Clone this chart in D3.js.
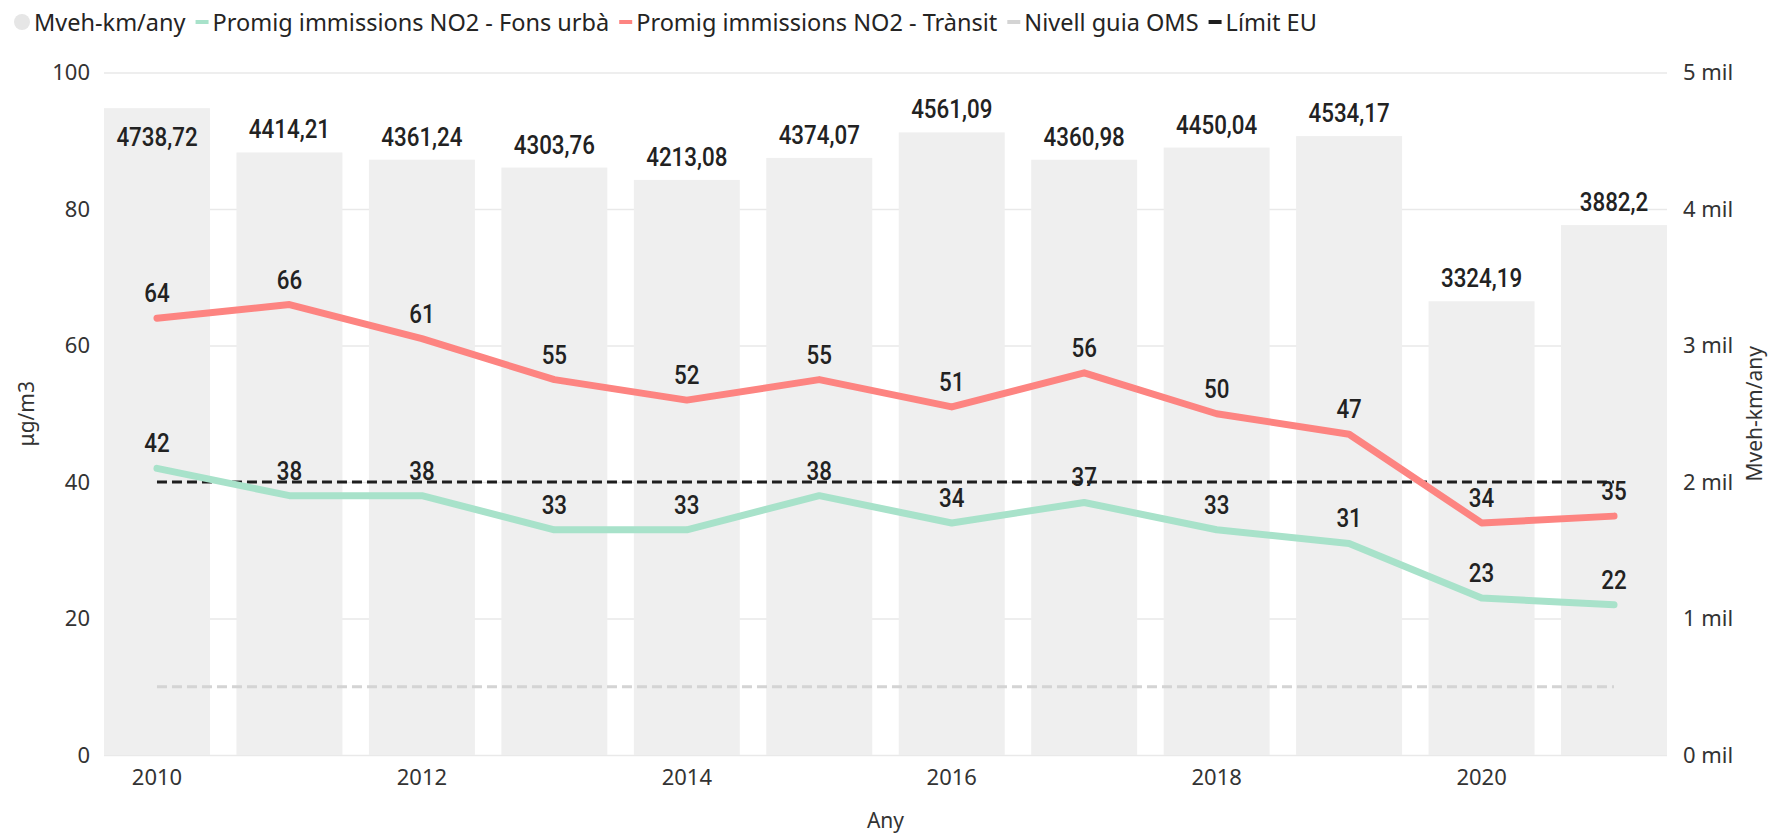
<!DOCTYPE html>
<html>
<head>
<meta charset="utf-8">
<script src="https://cdn.jsdelivr.net/npm/d3@7"></script>
<style>
  html, body { margin: 0; padding: 0; background: #fff; }
  svg { display: block; }
</style>
</head>
<body>
<svg id="chart" width="1768" height="838"></svg>
<script>
// ---- data ----
const years = [2010, 2011, 2012, 2013, 2014, 2015, 2016, 2017, 2018, 2019, 2020, 2021];
const traffic = [4738.72, 4414.21, 4361.24, 4303.76, 4213.08, 4374.07, 4561.09, 4360.98, 4450.04, 4534.17, 3324.19, 3882.2];
const no2Urban = [42, 38, 38, 33, 33, 38, 34, 37, 33, 31, 23, 22];
const no2Transit = [64, 66, 61, 55, 52, 55, 51, 56, 50, 47, 34, 35];
const whoGuide = [10, 10, 10, 10, 10, 10, 10, 10, 10, 10, 10, 10];
const euLimit = [40, 40, 40, 40, 40, 40, 40, 40, 40, 40, 40, 40];
const leftTicks = [0, 20, 40, 60, 80, 100];
const rightTicks = [0, 1000, 2000, 3000, 4000, 5000];
const xTickYears = [2010, 2012, 2014, 2016, 2018, 2020];
const seriesNames = ["Mveh-km/any", "Promig immissions NO2 - Fons urbà", "Promig immissions NO2 - Trànsit", "Nivell guia OMS", "Límit EU"];

// ---- layout ----
const svg = d3.select("#chart");
const plot = { left: 104, right: 1667, top: 72.5, bottom: 755 };
const colors = { bar: "#EFEFEF", urban: "#A8E2CA", transit: "#FD8481", who: "#D4D4D4", eu: "#1E1E1E", grid: "#E9E9E9" };
const tickFont = "'Noto Sans', 'Open Sans', sans-serif";
const labelFont = "Roboto, sans-serif";

const x = d3.scaleBand().domain(years).range([plot.left, plot.right]).paddingInner(0.2).paddingOuter(0);
const yL = d3.scaleLinear().domain([0, 100]).range([plot.bottom, plot.top]);
const yR = d3.scaleLinear().domain([0, 5000]).range([plot.bottom, plot.top]);
const cx = d => x(d) + x.bandwidth() / 2;

// gridlines
svg.append("g")
  .attr("transform", `translate(${plot.left},0)`)
  .call(d3.axisLeft(yL).tickValues(leftTicks).tickSize(-(plot.right - plot.left)).tickFormat(""))
  .call(g => g.select(".domain").remove())
  .call(g => g.selectAll("line").attr("stroke", colors.grid).attr("stroke-width", 1.5));

// bars
svg.append("g").selectAll("rect").data(years).join("rect")
  .attr("x", d => x(d))
  .attr("width", x.bandwidth())
  .attr("y", (d, i) => yR(traffic[i]))
  .attr("height", (d, i) => plot.bottom - yR(traffic[i]))
  .attr("fill", colors.bar);

// left axis
svg.append("g")
  .attr("transform", `translate(${plot.left},0)`)
  .call(d3.axisLeft(yL).tickValues(leftTicks).tickSize(0).tickPadding(14))
  .call(g => g.select(".domain").remove())
  .call(g => g.selectAll("text").attr("font-family", tickFont).attr("font-size", 22).attr("fill", "#333"));

// right axis
svg.append("g")
  .attr("transform", `translate(${plot.right},0)`)
  .call(d3.axisRight(yR).tickValues(rightTicks).tickSize(0).tickPadding(16).tickFormat(d => `${d / 1000} mil`))
  .call(g => g.select(".domain").remove())
  .call(g => g.selectAll("text").attr("font-family", tickFont).attr("font-size", 22).attr("fill", "#333"));

// bottom axis
svg.append("g")
  .attr("transform", `translate(0,${plot.bottom})`)
  .call(d3.axisBottom(x).tickValues(xTickYears).tickSize(0).tickPadding(14))
  .call(g => g.select(".domain").remove())
  .call(g => g.selectAll("text").attr("font-family", tickFont).attr("font-size", 22).attr("fill", "#333"));

// axis titles
svg.append("text").attr("transform", `translate(34,${(plot.top + plot.bottom) / 2}) rotate(-90)`)
  .attr("text-anchor", "middle").attr("font-family", tickFont).attr("font-size", 21).attr("fill", "#333").text("μg/m3");
svg.append("text").attr("transform", `translate(1762,${(plot.top + plot.bottom) / 2}) rotate(-90)`)
  .attr("text-anchor", "middle").attr("font-family", tickFont).attr("font-size", 21).attr("fill", "#333").text("Mveh-km/any");
svg.append("text").attr("x", (plot.left + plot.right) / 2).attr("y", 828)
  .attr("text-anchor", "middle").attr("font-family", tickFont).attr("font-size", 21).attr("fill", "#333").text("Any");

// reference dashed lines
const line = d3.line().x((d, i) => cx(years[i])).y(d => yL(d));
svg.append("path").datum(whoGuide).attr("d", line).attr("fill", "none")
  .attr("stroke", colors.who).attr("stroke-width", 3).attr("stroke-dasharray", "10,5");
svg.append("path").datum(euLimit).attr("d", line).attr("fill", "none")
  .attr("stroke", colors.eu).attr("stroke-width", 3).attr("stroke-dasharray", "10,5");

// series lines
svg.append("path").datum(no2Urban).attr("d", line).attr("fill", "none")
  .attr("stroke", colors.urban).attr("stroke-width", 7).attr("stroke-linecap", "round").attr("stroke-linejoin", "round");
svg.append("path").datum(no2Transit).attr("d", line).attr("fill", "none")
  .attr("stroke", colors.transit).attr("stroke-width", 7).attr("stroke-linecap", "round").attr("stroke-linejoin", "round");

// data labels
const SX = 0.86, LFS = 26, CAP = 19;
function label(g, px, py, txt) {
  g.append("text").attr("transform", `translate(${px},${py}) scale(${SX},1)`)
    .attr("text-anchor", "middle").attr("font-family", labelFont).attr("font-weight", 500)
    .attr("font-size", LFS).attr("fill", "#222").text(txt);
}
const labels = svg.append("g");
years.forEach((yr, i) => {
  const top = yR(traffic[i]);
  const txt = String(traffic[i]).replace(".", ",");
  const above = top - 14;
  // label goes inside the bar when it would not fit below the plot's top edge with margin
  if (above - CAP - 10 < plot.top) label(labels, cx(yr), top + 38, txt);
  else label(labels, cx(yr), above, txt);
  label(labels, cx(yr), yL(no2Transit[i]) - 16, String(no2Transit[i]));
  label(labels, cx(yr), yL(no2Urban[i]) - 16, String(no2Urban[i]));
});

// legend
const legend = svg.append("g").attr("font-family", tickFont).attr("font-size", 23.5).attr("fill", "#252423");
const legendKinds = ["dot", colors.urban, colors.transit, colors.who, colors.eu];
let lx = 14;
seriesNames.forEach((name, i) => {
  if (i === 0) {
    legend.append("circle").attr("cx", lx + 8).attr("cy", 22).attr("r", 8).attr("fill", "#E6E6E6");
    lx += 20;
  } else {
    legend.append("line").attr("x1", lx).attr("x2", lx + 13).attr("y1", 22).attr("y2", 22)
      .attr("stroke", legendKinds[i]).attr("stroke-width", 4);
    lx += 17;
  }
  const t = legend.append("text").attr("x", lx).attr("y", 31).text(name);
  lx += t.node().getComputedTextLength() + 10;
});
</script>
</body>
</html>
